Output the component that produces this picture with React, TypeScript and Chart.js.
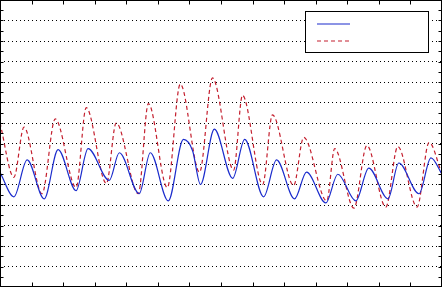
import React, { useEffect, useRef } from "react";
import { Chart, registerables } from "chart.js";

Chart.register(...registerables);

// Series A (solid blue): x positions and values at turning points
const blueX = [0, 0.44, 0.86, 1.4, 1.84, 2.41, 2.79, 3.46, 3.78, 4.41, 4.76, 5.33, 5.81, 6.1, 6.35, 6.79, 7.37, 7.75, 8.35, 8.76, 9.33, 9.71, 10.32, 10.7, 11.27, 11.68, 12.29, 12.63, 13.27, 13.65, 14];
const blueY = [5.6, 4.4, 6.2, 4.3, 6.7, 4.7, 6.75, 5.2, 6.55, 4.55, 6.55, 4.2, 7.2, 6.65, 5.0, 7.7, 5.3, 7.2, 4.4, 6.2, 4.3, 5.6, 4.1, 5.5, 4.2, 5.8, 4.3, 6.05, 4.55, 6.3, 5.5];

// Series B (dashed red)
const redX = [0, 0.44, 0.76, 1.33, 1.75, 2.41, 2.73, 3.37, 3.68, 4.38, 4.7, 5.3, 5.71, 6.32, 6.73, 7.4, 7.68, 8.32, 8.63, 9.3, 9.62, 10.35, 10.6, 11.21, 11.62, 12.22, 12.6, 13.21, 13.59, 14];
const redY = [8.0, 5.35, 7.8, 4.55, 8.2, 4.85, 8.75, 5.05, 8.0, 4.55, 8.95, 4.85, 9.9, 5.6, 10.2, 5.7, 9.35, 5.0, 8.4, 4.95, 7.3, 4.2, 6.75, 3.85, 6.9, 3.9, 6.85, 3.9, 7.05, 5.5];

const xMin = 0, xMax = 14, yMin = 0, yMax = 14;
const xTicks = [1, 2, 3, 4, 5, 6, 7, 8, 9, 10, 11, 12, 13];
const yMinorTicks = [0.5, 1, 1.5, 2, 2.5, 3, 3.5, 4, 4.5, 5, 5.5, 6, 6.5, 7, 7.5, 8, 8.5, 9, 9.5, 10, 10.5, 11, 11.5, 12, 12.5, 13, 13.5];

const BLUE = "#1a2bcc";
const RED = "#c41f2e";

const framePlugin = {
  id: "frameAndLegend",
  afterDraw(chart: any) {
    const ctx = chart.ctx as CanvasRenderingContext2D;
    const xs = chart.scales.x;
    const ys = chart.scales.y;
    const l = Math.round(xs.getPixelForValue(xMin)) + 0.5;
    const r = Math.round(xs.getPixelForValue(xMax)) - 0.5;
    const t = Math.round(ys.getPixelForValue(yMax)) + 0.5;
    const b = Math.round(ys.getPixelForValue(yMin)) - 0.5;
    ctx.save();
    ctx.strokeStyle = "#000";
    ctx.lineWidth = 1;
    ctx.setLineDash([]);
    ctx.strokeRect(l, t, r - l, b - t);
    ctx.beginPath();
    for (const v of xTicks) {
      const p = Math.round(xs.getPixelForValue(v)) + 0.5;
      ctx.moveTo(p, t); ctx.lineTo(p, t + 4);
      ctx.moveTo(p, b); ctx.lineTo(p, b - 4);
    }
    for (const v of yMinorTicks) {
      const p = Math.round(ys.getPixelForValue(v)) + 0.5;
      ctx.moveTo(l, p); ctx.lineTo(l + 3, p);
      ctx.moveTo(r, p); ctx.lineTo(r - 3, p);
    }
    ctx.stroke();

    // legend box (no text, like the reference)
    const bx = 305.5, by = 11.5, bw = 123, bh = 41;
    ctx.fillStyle = "#fff";
    ctx.fillRect(bx, by, bw, bh);
    ctx.strokeRect(bx, by, bw, bh);
    const ds = chart.data.datasets;
    ctx.lineWidth = 1.2;
    ctx.strokeStyle = ds[0].borderColor;
    ctx.beginPath(); ctx.moveTo(317, 24); ctx.lineTo(350, 24); ctx.stroke();
    ctx.strokeStyle = ds[1].borderColor;
    ctx.setLineDash(ds[1].borderDash);
    ctx.beginPath(); ctx.moveTo(317, 41); ctx.lineTo(350, 41); ctx.stroke();
    ctx.restore();
  },
};

export default function App() {
  const ref = useRef<HTMLCanvasElement | null>(null);
  useEffect(() => {
    document.body.style.margin = "0";
    const canvas = ref.current!;
    const chart = new Chart(canvas, {
      type: "line",
      data: {
        datasets: [
          {
            label: "A",
            data: blueX.map((x, i) => ({ x, y: blueY[i] })),
            borderColor: BLUE,
            borderWidth: 1.2,
            pointRadius: 0,
            cubicInterpolationMode: "monotone",
            fill: false,
          },
          {
            label: "B",
            data: redX.map((x, i) => ({ x, y: redY[i] })),
            borderColor: RED,
            borderWidth: 1.2,
            borderDash: [4, 3],
            pointRadius: 0,
            cubicInterpolationMode: "monotone",
            fill: false,
          },
        ],
      },
      options: {
        animation: false,
        responsive: false,
        maintainAspectRatio: false,
        layout: { padding: 0 },
        plugins: { legend: { display: false }, tooltip: { enabled: false } },
        scales: {
          x: {
            type: "linear",
            min: xMin,
            max: xMax,
            ticks: { display: false, stepSize: 1 },
            grid: { display: false, drawTicks: false },
            border: { display: false },
          },
          y: {
            type: "linear",
            min: yMin,
            max: yMax,
            ticks: { display: false, stepSize: 1 },
            grid: { display: true, drawTicks: false, color: "#000", lineWidth: 1 },
            border: { display: false, dash: [1, 3] },
          },
        },
      },
      plugins: [framePlugin],
    } as any);
    return () => chart.destroy();
  }, []);
  return (
    <div style={{ width: 442, height: 287 }}>
      <canvas ref={ref} width={442} height={287} style={{ display: "block" }} />
    </div>
  );
}
